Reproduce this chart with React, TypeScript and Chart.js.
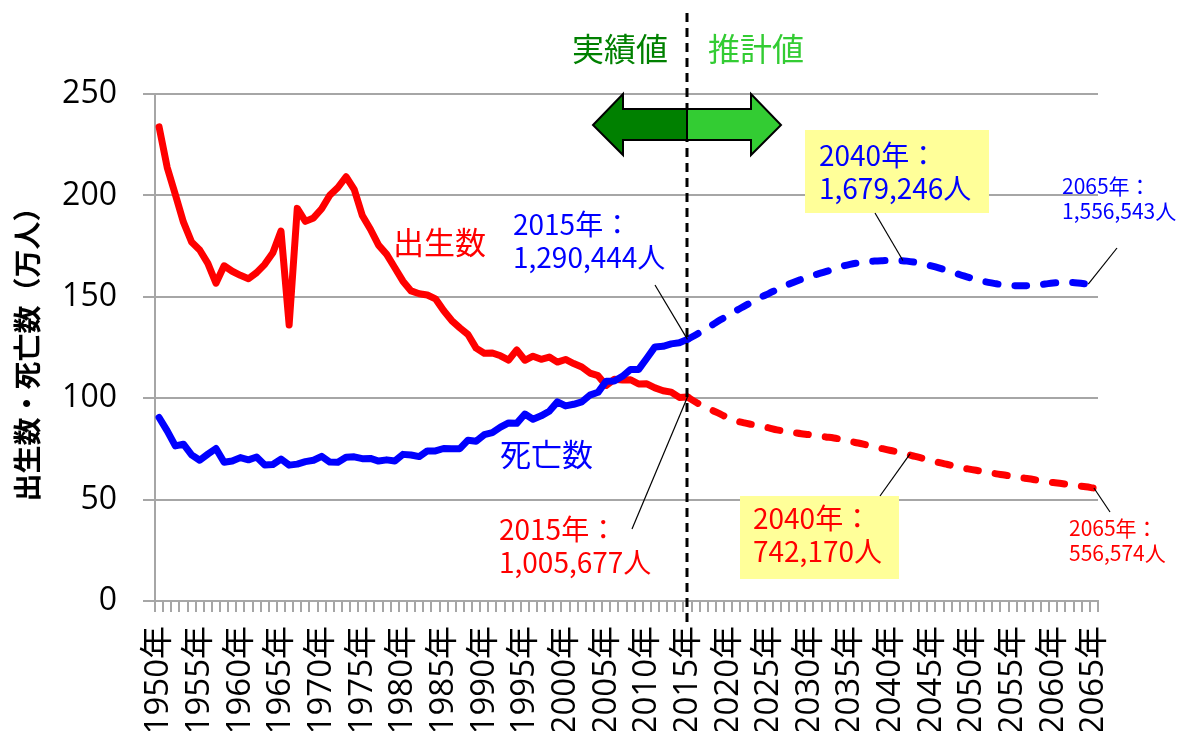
import React, { useEffect, useRef } from 'react';
import { Chart, registerables } from 'chart.js';

Chart.register(...registerables);

// ---- data ----
const firstYear = 1950;
const lastYear = 2065;
const years: number[] = Array.from({ length: lastYear - firstYear + 1 }, (_, i) => firstYear + i);
const yearLabels: string[] = years.map((y) => `${y}年`);

// 実績値 1950–2015 (万人)
const birthsActual: number[] = [
  233.8, 213.8, 200.5, 186.8, 177.0, 173.1, 166.5, 156.7, 165.3, 162.6,
  160.6, 158.9, 161.9, 166.0, 171.7, 182.4, 136.1, 193.6, 187.2, 188.9,
  193.4, 200.1, 203.9, 209.2, 203.0, 190.1, 183.3, 175.5, 170.9, 164.3,
  157.7, 152.9, 151.5, 150.9, 149.0, 143.2, 138.3, 134.7, 131.4, 124.7,
  122.2, 122.3, 120.9, 118.8, 123.8, 118.7, 120.7, 119.2, 120.3, 117.8,
  119.1, 117.1, 115.4, 112.4, 111.1, 106.3, 109.3, 109.0, 109.1, 107.0,
  107.1, 105.1, 103.7, 103.0, 100.4, 100.6,
];
const deathsActual: number[] = [
  90.5, 83.9, 76.5, 77.3, 72.1, 69.4, 72.4, 75.2, 68.4, 69.0,
  70.7, 69.6, 71.0, 67.1, 67.3, 70.0, 67.0, 67.5, 68.7, 69.4,
  71.3, 68.5, 68.4, 70.9, 71.1, 70.2, 70.3, 69.0, 69.6, 69.0,
  72.3, 72.0, 71.2, 74.0, 74.0, 75.2, 75.1, 75.1, 79.3, 78.8,
  82.0, 83.0, 85.7, 87.8, 87.6, 92.2, 89.6, 91.3, 93.6, 98.2,
  96.2, 97.0, 98.2, 101.5, 102.9, 108.4, 108.5, 110.8, 114.2, 114.2,
  119.7, 125.3, 125.6, 126.8, 127.3, 129.0,
];
// 推計値 2015–2065 (万人)
const birthsProjected: number[] = [
  100.6, 98.1, 96.0, 94.1, 92.3, 90.2, 88.8, 87.8, 87.0, 86.2,
  85.4, 84.4, 83.7, 83.1, 82.5, 82.0, 81.4, 80.9, 80.4, 79.6,
  78.7, 77.9, 77.0, 76.1, 75.1, 74.2, 73.4, 72.4, 71.3, 70.3,
  69.3, 68.2, 67.3, 66.4, 65.5, 64.8, 64.1, 63.4, 62.7, 62.1,
  61.4, 60.8, 60.3, 59.6, 59.0, 58.4, 57.9, 57.3, 56.8, 56.3,
  55.7,
];
const deathsProjected: number[] = [
  129.0, 131.2, 133.6, 136.0, 138.5, 140.8, 143.2, 145.4, 147.6, 149.7,
  151.6, 153.6, 155.4, 157.1, 158.6, 160.0, 161.2, 162.4, 163.7, 165.0,
  166.0, 166.7, 167.2, 167.6, 167.8, 167.9, 167.9, 167.6, 167.0, 166.2,
  165.2, 164.1, 162.9, 161.6, 160.3, 159.1, 158.0, 157.1, 156.4, 155.8,
  155.5, 155.4, 155.5, 155.8, 156.3, 156.8, 157.1, 157.1, 156.8, 156.3,
  155.7,
];

const yTicks = { min: 0, max: 250, step: 50 };
const splitYear = 2015;

const JP = "'Noto Sans CJK JP', sans-serif";
const TICK_FONT = "'Open Sans', 'Noto Sans CJK JP', sans-serif";

function pad(before: number, values: number[], total: number): (number | null)[] {
  const out: (number | null)[] = [];
  for (let i = 0; i < before; i++) out.push(null);
  for (const v of values) out.push(v);
  while (out.length < total) out.push(null);
  return out;
}

const annotationPlugin = {
  id: 'annotations',
  afterDraw(chart: any) {
    const ctx = chart.ctx as CanvasRenderingContext2D;
    const xs = chart.scales.x;
    const ys = chart.scales.y;
    const si = years.indexOf(splitYear);
    const cx = Math.round(xs.getPixelForValue(si));
    ctx.save();

    // vertical dashed line at 2015
    ctx.strokeStyle = '#000';
    ctx.lineWidth = 3;
    ctx.setLineDash([9, 6]);
    ctx.beginPath();
    ctx.moveTo(cx, 13);
    ctx.lineTo(cx, 622);
    ctx.stroke();
    ctx.setLineDash([]);

    // double arrow
    const drawHalf = (dir: number, fill: string) => {
      ctx.beginPath();
      ctx.moveTo(cx, 109);
      ctx.lineTo(cx + dir * 64, 109);
      ctx.lineTo(cx + dir * 64, 94);
      ctx.lineTo(cx + dir * 94, 125);
      ctx.lineTo(cx + dir * 64, 155);
      ctx.lineTo(cx + dir * 64, 140);
      ctx.lineTo(cx, 140);
      ctx.closePath();
      ctx.fillStyle = fill;
      ctx.fill();
      ctx.strokeStyle = '#000';
      ctx.lineWidth = 2;
      ctx.stroke();
    };
    drawHalf(-1, '#008000');
    drawHalf(1, '#33CC33');

    // 実績値 / 推計値
    ctx.font = `32px ${JP}`;
    ctx.textBaseline = 'middle';
    ctx.textAlign = 'right';
    ctx.fillStyle = '#008000';
    ctx.fillText('実績値', cx - 19, 49);
    ctx.textAlign = 'left';
    ctx.fillStyle = '#33CC33';
    ctx.fillText('推計値', cx + 21, 49);

    // series names
    ctx.font = `31px ${JP}`;
    ctx.fillStyle = '#FF0000';
    ctx.fillText('出生数', 393, 242);
    ctx.fillStyle = '#0000FF';
    ctx.fillText('死亡数', 500, 454);

    // yellow boxes
    ctx.fillStyle = '#FFFF99';
    ctx.fillRect(805, 130, 184, 83);
    ctx.fillRect(740, 496, 159, 83);

    const leader = (x1: number, y1: number, x2: number, y2: number) => {
      ctx.strokeStyle = '#000';
      ctx.lineWidth = 1.2;
      ctx.beginPath();
      ctx.moveTo(x1, y1);
      ctx.lineTo(x2, y2);
      ctx.stroke();
    };
    const px = (idx: number) => xs.getPixelForValue(idx);
    const py = (v: number) => ys.getPixelForValue(v);
    const i2040 = years.indexOf(2040);
    const i2065 = years.indexOf(2065);
    const pj = (arr: number[], idx: number) => arr[idx - si];

    leader(655, 285, px(si), py(deathsActual[si]));
    leader(632, 529, px(si), py(birthsActual[si]));
    leader(875, 213, px(i2040 + 1.5), py(pj(deathsProjected, i2040 + 1)));
    leader(880, 496, px(i2040 + 2.4), py(pj(birthsProjected, i2040 + 2) + 0.3));
    leader(1117, 248, px(i2065 - 0.7), py(pj(deathsProjected, i2065 - 1)));
    leader(1110, 512, px(i2065), py(pj(birthsProjected, i2065)));

    const text2 = (l1: string, l2: string, x: number, y1: number, y2: number, size: number, color: string) => {
      ctx.font = `${size}px ${JP}`;
      ctx.fillStyle = color;
      ctx.textAlign = 'left';
      ctx.textBaseline = 'middle';
      ctx.fillText(l1, x, y1);
      ctx.fillText(l2, x, y2);
    };
    text2('2015年：', '1,290,444人', 513, 224, 257, 28, '#0000FF');
    text2('2015年：', '1,005,677人', 499, 529, 562, 28, '#FF0000');
    text2('2040年：', '1,679,246人', 819, 155, 188, 28, '#0000FF');
    text2('2040年：', '742,170人', 753, 518, 551, 28, '#FF0000');
    text2('2065年：', '1,556,543人', 1062, 186, 211, 21, '#0000FF');
    text2('2065年：', '556,574人', 1069, 528, 553, 21, '#FF0000');

    ctx.restore();
  },
};

export default function App() {
  const ref = useRef<HTMLCanvasElement | null>(null);

  useEffect(() => {
    if (!ref.current) return;
    const total = years.length;
    const si = years.indexOf(splitYear);
    const chart = new Chart(ref.current, {
      type: 'line',
      data: {
        labels: yearLabels,
        datasets: [
          {
            label: '死亡数',
            data: pad(0, deathsActual, total),
            borderColor: '#0000FF',
            borderWidth: 7,
            pointRadius: 0,
            tension: 0,
            borderJoinStyle: 'round',
            borderCapStyle: 'round',
            order: 0,
          },
          {
            label: '死亡数（推計）',
            data: pad(si, deathsProjected, total),
            borderColor: '#0000FF',
            borderWidth: 7,
            pointRadius: 0,
            tension: 0.4,
            borderDash: [12, 17],
            borderCapStyle: 'round',
            order: 0,
          },
          {
            label: '出生数',
            data: pad(0, birthsActual, total),
            borderColor: '#FF0000',
            borderWidth: 7,
            pointRadius: 0,
            tension: 0,
            borderJoinStyle: 'round',
            borderCapStyle: 'round',
            order: 1,
          },
          {
            label: '出生数（推計）',
            data: pad(si, birthsProjected, total),
            borderColor: '#FF0000',
            borderWidth: 7,
            pointRadius: 0,
            tension: 0.4,
            borderDash: [12, 17],
            borderCapStyle: 'round',
            order: 1,
          },
        ],
      },
      options: {
        responsive: false,
        animation: false,
        devicePixelRatio: 1,
        layout: { padding: { top: 94, right: 81, left: 0, bottom: 0 } },
        plugins: {
          legend: { display: false },
          tooltip: { enabled: false },
        },
        scales: {
          x: {
            type: 'category',
            offset: true,
            afterFit: (s: any) => {
              s.height = 130;
            },
            grid: {
              offset: true,
              drawOnChartArea: false,
              drawTicks: true,
              tickLength: 11,
              color: '#A6A6A6',
              lineWidth: 2,
            },
            border: { color: '#A6A6A6', width: 2 },
            ticks: {
              autoSkip: false,
              maxRotation: 90,
              minRotation: 90,
              padding: 14,
              color: '#000',
              font: { size: 33, family: TICK_FONT },
              callback: (_v: any, i: number) => (years[i] % 5 === 0 ? yearLabels[i] : ''),
            },
          },
          y: {
            min: yTicks.min,
            max: yTicks.max,
            afterFit: (s: any) => {
              s.width = 155;
            },
            grid: { color: '#A6A6A6', lineWidth: 2, tickLength: 12 },
            border: { color: '#A6A6A6', width: 2 },
            ticks: {
              stepSize: yTicks.step,
              padding: 26,
              color: '#000',
              font: { size: 32, family: TICK_FONT },
            },
            title: {
              display: true,
              text: '出生数・死亡数（万人）',
              color: '#000',
              font: { size: 28, weight: 'bold', family: JP },
              padding: { top: 11, bottom: 0 },
            },
          },
        },
      },
      plugins: [annotationPlugin],
    } as any);
    return () => chart.destroy();
  }, []);

  return (
    <div style={{ position: 'absolute', left: 0, top: 0, width: 1179, height: 731, background: '#fff' }}>
      <canvas ref={ref} width={1179} height={731} style={{ width: 1179, height: 731, display: 'block' }} />
    </div>
  );
}
